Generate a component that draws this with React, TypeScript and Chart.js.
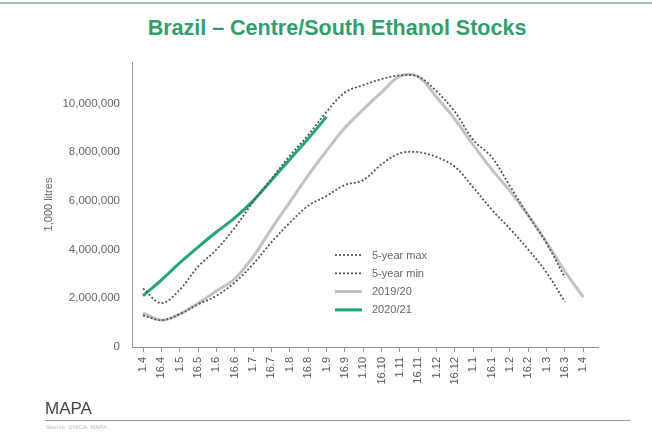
import React, { useEffect, useRef } from "react";
import { Chart, registerables } from "chart.js";
Chart.register(...registerables);

const categories = ["1.4","16.4","1.5","16.5","1.6","16.6","1.7","16.7","1.8","16.8","1.9","16.9","1.10","16.10","1.11","16.11","1.12","16.12","1.1","16.1","1.2","16.2","1.3","16.3","1.4"];
const yTicks = [0, 2000000, 4000000, 6000000, 8000000, 10000000];

const max5y = [2400000, 1800000, 2350000, 3300000, 4000000, 4900000, 5950000, 6900000, 7850000, 8700000, 9650000, 10450000, 10750000, 11000000, 11150000, 11100000, 10500000, 9650000, 8500000, 7800000, 6600000, 5400000, 4250000, 2850000];
const min5y = [1300000, 1100000, 1350000, 1750000, 2100000, 2650000, 3400000, 4300000, 5100000, 5800000, 6200000, 6650000, 6850000, 7500000, 7950000, 8000000, 7800000, 7400000, 6550000, 5650000, 4850000, 4000000, 3050000, 1850000];
const s2019 = [1400000, 1100000, 1350000, 1800000, 2300000, 2800000, 3700000, 4850000, 5950000, 7050000, 8050000, 9000000, 9750000, 10450000, 11120000, 11100000, 10250000, 9350000, 8300000, 7300000, 6400000, 5400000, 4300000, 3100000, 2050000];
const s2020 = [2100000, 2750000, 3450000, 4100000, 4720000, 5300000, 6000000, 6850000, 7700000, 8550000, 9450000];

const seriesNames = ["5-year max", "5-year min", "2019/20", "2020/21"];

const toPoints = (arr: number[]) => arr.map((v, i) => ({ x: i, y: v }));

const legendPlugin = {
  id: "insideLegend",
  afterDatasetsDraw(chart: any) {
    const { ctx, chartArea } = chart;
    const x0 = chartArea.left + 203;
    const y0 = chartArea.top + 193;
    ctx.save();
    chart.data.datasets.forEach((ds: any, i: number) => {
      const y = y0 + i * 18.3;
      ctx.beginPath();
      ctx.strokeStyle = ds.borderColor;
      ctx.lineWidth = ds.borderWidth;
      ctx.setLineDash(ds.borderDash || []);
      ctx.moveTo(x0, y);
      ctx.lineTo(x0 + 27, y);
      ctx.stroke();
      ctx.setLineDash([]);
      ctx.fillStyle = "#666";
      ctx.font = "11px 'Liberation Sans', Arial, sans-serif";
      ctx.textBaseline = "middle";
      ctx.textAlign = "left";
      ctx.fillText(ds.label, x0 + 37, y + 0.5);
    });
    ctx.restore();
  },
};

export default function App() {
  const ref = useRef<HTMLCanvasElement>(null);
  useEffect(() => {
    if (!ref.current) return;
    const font = { family: "'Liberation Sans', Arial, sans-serif", size: 11 };
    const chart = new Chart(ref.current, {
      type: "line",
      data: {
        datasets: [
          { label: seriesNames[0], data: toPoints(max5y), borderColor: "#555", borderWidth: 1.8, borderDash: [2, 2], pointRadius: 0, tension: 0.35, fill: false },
          { label: seriesNames[1], data: toPoints(min5y), borderColor: "#555", borderWidth: 1.8, borderDash: [2, 2], pointRadius: 0, tension: 0.35, fill: false },
          { label: seriesNames[2], data: toPoints(s2019), borderColor: "#c2c2c2", borderWidth: 3, pointRadius: 0, tension: 0.35, fill: false },
          { label: seriesNames[3], data: toPoints(s2020), borderColor: "#22a672", borderWidth: 3, pointRadius: 0, tension: 0.35, fill: false },
        ],
      },
      options: {
        animation: false,
        responsive: false,
        maintainAspectRatio: false,
        layout: { padding: { top: 62, right: 54, left: 42, bottom: 0 } },
        plugins: { legend: { display: false }, tooltip: { enabled: false }, title: { display: false } },
        scales: {
          x: {
            type: "linear",
            min: -0.6,
            max: 24.8,
            afterBuildTicks: (s: any) => { s.ticks = categories.map((_, i) => ({ value: i })); },
            afterFit: (s: any) => { s.height = 53; },
            grid: { display: true, drawOnChartArea: false, drawTicks: true, tickLength: 5, color: "#999" },
            border: { color: "#888", width: 1 },
            ticks: {
              autoSkip: false,
              maxRotation: 90,
              minRotation: 90,
              padding: 5,
              color: "#555",
              font,
              callback: (v: any) => categories[Math.round(v)] ?? "",
            },
          },
          y: {
            min: 0,
            max: 11700000,
            afterBuildTicks: (s: any) => { s.ticks = yTicks.map((v) => ({ value: v })); },
            afterFit: (s: any) => { s.width = 90; },
            grid: { display: true, drawOnChartArea: false, drawTicks: false },
            border: { color: "#999", width: 1 },
            ticks: {
              padding: 12,
              color: "#666",
              font: { ...font, size: 11.5 },
              callback: (v: any) => Number(v).toLocaleString("en-US"),
            },
            title: { display: true, text: "1,000 litres", color: "#666", font: { ...font, size: 11 }, padding: { top: 0, bottom: 0 } },
          },
        },
      },
      plugins: [legendPlugin],
    } as any);
    return () => chart.destroy();
  }, []);

  return (
    <div style={{ position: "absolute", left: 0, top: 0, width: 652, height: 432, background: "#fff", overflow: "hidden", fontFamily: "'Liberation Sans', Arial, sans-serif" }}>
      <div style={{ position: "absolute", left: 0, top: 2, width: 652, height: 2, background: "#a9bdb6" }} />
      <div style={{ position: "absolute", left: 22, top: 16, width: 630, textAlign: "center", color: "#329e6c", fontWeight: "bold", fontSize: 21.5 }}>
        Brazil – Centre/South Ethanol Stocks
      </div>
      <canvas ref={ref} width={652} height={400} style={{ position: "absolute", left: 0, top: 0, width: 652, height: 400 }} />
      <div style={{ position: "absolute", left: 45, top: 399, color: "#444", fontSize: 17 }}>MAPA</div>
      <div style={{ position: "absolute", left: 45, top: 420, width: 585, height: 1, background: "#999" }} />
      <div style={{ position: "absolute", left: 46, top: 424, color: "#bbb", fontSize: 6 }}>Source: UNICA, MAPA</div>
    </div>
  );
}
